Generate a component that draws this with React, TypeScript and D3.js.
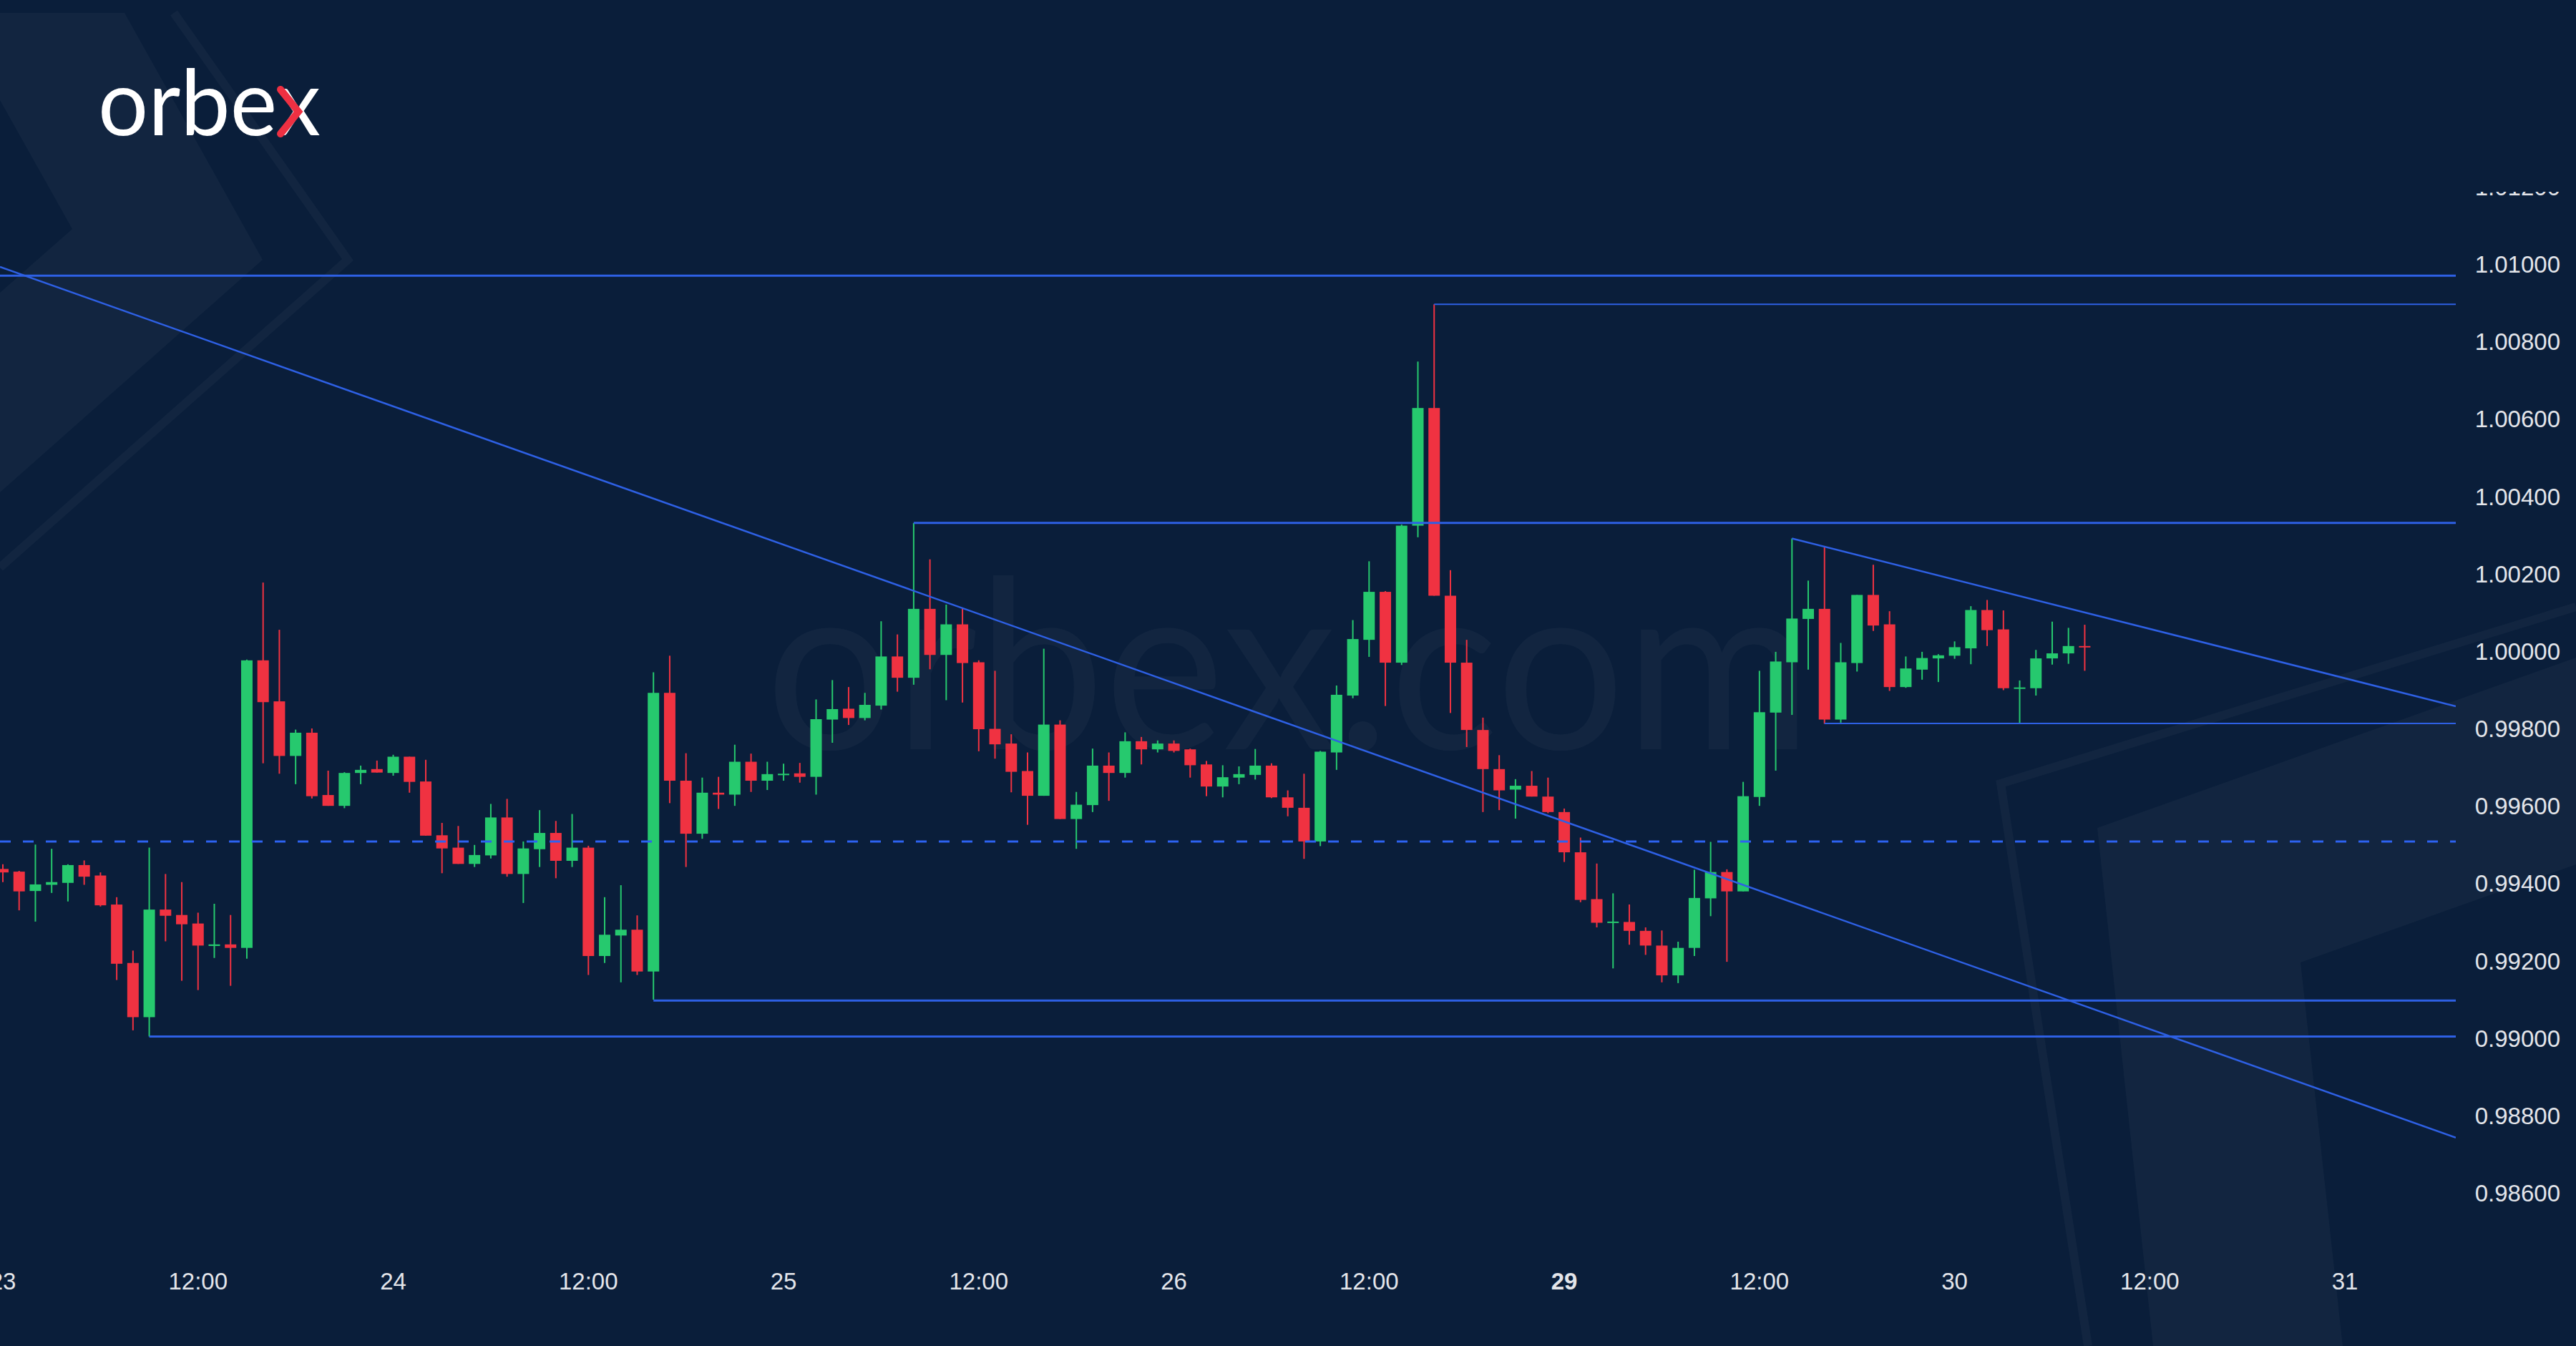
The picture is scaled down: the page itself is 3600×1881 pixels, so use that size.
import React from "react";
import * as d3 from "d3";

// ---- data (EUR/USD 1H) ----
const opens = [
  0.99437, 0.9943, 0.9938, 0.99396, 0.99401, 0.99447, 0.9942, 0.99345, 0.99194, 0.99054,
  0.99332, 0.99318, 0.99296, 0.99238, 0.99242, 0.99233, 0.99976, 0.9987, 0.99729, 0.99789,
  0.99628, 0.996, 0.99685, 0.99695, 0.99685, 0.99727, 0.99663, 0.99524, 0.99492, 0.9945,
  0.99472, 0.9957, 0.99424, 0.99488, 0.9953, 0.99458, 0.99492, 0.99212, 0.99265, 0.9928,
  0.99172, 0.99892, 0.99665, 0.99528, 0.99634, 0.99629, 0.99714, 0.99665, 0.99681, 0.99684,
  0.99675, 0.99823, 0.99851, 0.99827, 0.99859, 0.99986, 0.99931, 1.00109, 0.9999, 1.00069,
  0.99971, 0.99799, 0.99761, 0.9969, 0.99626, 0.9981, 0.99566, 0.99602, 0.99704, 0.99685,
  0.99767, 0.99746, 0.99761, 0.99746, 0.99707, 0.9965, 0.99673, 0.9968, 0.99704, 0.99622,
  0.99595, 0.99508, 0.99738, 0.99885, 1.00029, 1.00153, 0.9997, 1.00324, 1.00628, 1.00143,
  0.9997, 0.99796, 0.99695, 0.99642, 0.99652, 0.99624, 0.99584, 0.9948, 0.99359, 0.99298,
  0.993, 0.99277, 0.99239, 0.99162, 0.99233, 0.99361, 0.99429, 0.99379, 0.99623, 0.99841,
  0.99971, 1.00083, 1.00109, 0.99823, 0.99969, 1.00145, 1.00069, 0.99907, 0.99952, 0.99981,
  0.99988, 1.00007, 1.00106, 1.00056, 0.99904, 0.99904, 0.99981, 0.99994, 1.00013,
];
const highs = [
  0.99449, 0.99432, 0.995, 0.99489, 0.99449, 0.99459, 0.99428, 0.99364, 0.99226, 0.99492,
  0.99424, 0.99403, 0.99324, 0.99347, 0.99318, 0.99978, 1.00177, 1.00055, 0.99797, 0.998,
  0.99691, 0.99687, 0.99704, 0.99717, 0.99732, 0.99727, 0.99719, 0.99556, 0.99548, 0.99499,
  0.99605, 0.99618, 0.99508, 0.99589, 0.99561, 0.99579, 0.99497, 0.99364, 0.99395, 0.99317,
  0.99945, 0.99988, 0.99736, 0.99673, 0.99675, 0.99758, 0.99735, 0.99714, 0.99709, 0.99711,
  0.99875, 0.99925, 0.99907, 0.99892, 1.00077, 1.00043, 1.00331, 1.00237, 1.0012, 1.00112,
  0.99976, 0.99949, 0.99785, 0.99738, 1.00006, 0.99821, 0.99636, 0.99748, 0.99738, 0.9979,
  0.99778, 0.99769, 0.99769, 0.99748, 0.99716, 0.99705, 0.99702, 0.99747, 0.9971, 0.9964,
  0.99683, 0.99742, 0.99911, 1.0008, 1.00232, 1.00155, 1.00327, 1.00748, 1.00896, 1.00209,
  1.00029, 0.99828, 0.99731, 0.99669, 0.9969, 0.99673, 0.99593, 0.99518, 0.99451, 0.99374,
  0.99345, 0.99286, 0.99278, 0.99249, 0.99435, 0.99507, 0.99436, 0.99662, 0.99949, 0.99998,
  1.00291, 1.00182, 1.00268, 1.00021, 1.00145, 1.00223, 1.00103, 0.99986, 0.99998, 0.99992,
  1.00025, 1.00116, 1.00132, 1.00105, 0.99924, 1.00003, 1.00076, 1.0006, 1.00068,
];
const lows = [
  0.99403, 0.9933, 0.99301, 0.99375, 0.99353, 0.99396, 0.9934, 0.9915, 0.9902, 0.99004,
  0.9925, 0.99148, 0.99124, 0.99207, 0.99135, 0.99205, 0.9971, 0.99683, 0.99656, 0.99619,
  0.996, 0.99594, 0.99656, 0.99686, 0.99678, 0.99634, 0.99523, 0.99426, 0.9945, 0.99442,
  0.99464, 0.99417, 0.99349, 0.99442, 0.99413, 0.99442, 0.99163, 0.99194, 0.99144, 0.99163,
  0.99099, 0.99607, 0.99442, 0.99515, 0.99592, 0.996, 0.99636, 0.99641, 0.99665, 0.9966,
  0.99629, 0.99763, 0.99809, 0.99821, 0.99849, 0.99895, 0.99913, 0.99953, 0.99873, 0.99867,
  0.99741, 0.99722, 0.99635, 0.99551, 0.99626, 0.99566, 0.99489, 0.99584, 0.99613, 0.99673,
  0.99707, 0.99738, 0.99738, 0.99673, 0.99625, 0.99622, 0.99656, 0.99668, 0.9962, 0.99573,
  0.99463, 0.99496, 0.99693, 0.99878, 0.99985, 0.99858, 0.99964, 1.00294, 1.00143, 0.9984,
  0.99752, 0.99584, 0.99589, 0.99567, 0.99624, 0.99581, 0.99455, 0.99351, 0.99286, 0.9918,
  0.99241, 0.99215, 0.99144, 0.99142, 0.99212, 0.99315, 0.99197, 0.99379, 0.996, 0.99691,
  0.99835, 0.99952, 0.99812, 0.99815, 0.99947, 1.00052, 0.99897, 0.99905, 0.99926, 0.9992,
  0.9998, 0.99966, 1.00013, 0.99899, 0.99814, 0.99885, 0.99965, 0.99967, 0.99949,
];
const closes = [
  0.99428, 0.99379, 0.99397, 0.99403, 0.99447, 0.99417, 0.99343, 0.99192, 0.99054, 0.99332,
  0.99316, 0.99294, 0.99239, 0.99242, 0.99233, 0.99976, 0.99868, 0.99729, 0.99789, 0.99625,
  0.996, 0.99685, 0.99693, 0.99686, 0.99727, 0.99662, 0.99523, 0.9949, 0.9945, 0.99473,
  0.9957, 0.99424, 0.9949, 0.9953, 0.99458, 0.99492, 0.99212, 0.99267, 0.9928, 0.99172,
  0.99892, 0.99665, 0.99528, 0.99634, 0.99629, 0.99714, 0.99665, 0.99682, 0.99683, 0.99675,
  0.99824, 0.9985, 0.99827, 0.99861, 0.99986, 0.99931, 1.00109, 0.9999, 1.00069, 0.99969,
  0.99798, 0.99759, 0.99688, 0.99626, 0.9981, 0.99566, 0.99603, 0.99704, 0.99685, 0.99767,
  0.99746, 0.99761, 0.99742, 0.99705, 0.9965, 0.99674, 0.99682, 0.99704, 0.99622, 0.99595,
  0.99508, 0.9974, 0.99887, 1.00031, 1.00153, 0.9997, 1.00324, 1.00628, 1.00143, 0.9997,
  0.99796, 0.99695, 0.9964, 0.99652, 0.99624, 0.99584, 0.9948, 0.99357, 0.99298, 0.99301,
  0.99277, 0.99239, 0.99162, 0.99233, 0.99362, 0.99429, 0.99379, 0.99625, 0.99842, 0.99973,
  1.00084, 1.00109, 0.99823, 0.99971, 1.00145, 1.00066, 0.99907, 0.99955, 0.99982, 0.99989,
  1.0001, 1.00106, 1.00054, 0.99904, 0.99906, 0.99981, 0.99994, 1.00013, 1.00012,
];

const timeTicks = [0, 12, 24, 36, 48, 60, 72, 84, 96, 108, 120, 132, 144];
const timeLabels = ["23", "12:00", "24", "12:00", "25", "12:00", "26", "12:00", "29", "12:00", "30", "12:00", "31"];
const boldTimeLabels = ["29"];
const priceTicks = [1.012, 1.01, 1.008, 1.006, 1.004, 1.002, 1.0, 0.998, 0.996, 0.994, 0.992, 0.99, 0.988, 0.986];

const levelPrices = [1.0097, 1.00896, 1.00331, 0.99813, 0.99097, 0.99004];
const levelStartIdx = [null, 88, 56, 112, 40, 9];
const midLevel = 0.99508;
const trendTimes = [[0, 150], [110, 129.2]];
const trendPrices = [[1.0099, 0.98755], [1.00291, 1.00087]];

const W = 3600;
const H = 1881;
const PLOT_RIGHT = 3432;
const BG = "#0a1e3a";
const UP = "#26c96e";
const DOWN = "#f03241";
const LINE = "#2e60e4";
const LEVEL_WIDTH = [3, 2, 3, 2, 3, 3];
const AXIS_FONT = "'Liberation Sans', Arial, sans-serif";
const LOGO_FONT = "Lato, 'Open Sans', sans-serif";

export default function App() {
  const x = d3.scaleLinear().domain([0, 150]).range([4, 4 + 22.73 * 150]);
  const y = d3.scaleLinear().domain([0.986, 1.01]).range([1667, 369]);
  const bodyW = 16;

  const trendPaths = trendTimes.map((t, k) => {
    const p = trendPrices[k];
    const f = d3.scaleLinear().domain(t).range(p);
    const i0 = k === 0 ? x.invert(0) : t[0];
    const i1 = x.invert(PLOT_RIGHT);
    return d3.line()([
      [x(i0), y(f(i0))],
      [x(i1), y(f(i1))],
    ]);
  });

  return (
    <svg
      width={W}
      height={H}
      viewBox={`0 0 ${W} ${H}`}
      style={{ position: "absolute", left: 0, top: 0, display: "block" }}
    >
      <defs>
        <clipPath id="plotClip">
          <rect x={0} y={0} width={PLOT_RIGHT} height={1740} />
        </clipPath>
        <clipPath id="axisClip">
          <rect x={PLOT_RIGHT} y={268} width={W - PLOT_RIGHT} height={1470} />
        </clipPath>
      </defs>

      <rect x={0} y={0} width={W} height={H} fill={BG} />

      {/* background decorations */}
      <path
        d="M0,18 L174,18 L367,363 L0,688 Z M0,140 L101,320 L0,409 Z"
        fill="#ffffff"
        fillOpacity={0.035}
        fillRule="evenodd"
      />
      <polyline
        points="243,18 486,363 0,793"
        fill="none"
        stroke="#ffffff"
        strokeOpacity={0.035}
        strokeWidth={12}
      />
      <polyline
        points="3600,848 2796,1095 2918,1881"
        fill="none"
        stroke="#ffffff"
        strokeOpacity={0.035}
        strokeWidth={12}
      />
      <polygon
        points="2931,1157 3600,919 3600,1208 3215,1345 3274,1881 3009,1881"
        fill="#ffffff"
        fillOpacity={0.035}
      />

      {/* watermark */}
      <text
        x={1070}
        y={1047}
        fontFamily={LOGO_FONT}
        fontSize={330}
        fill="#ffffff"
        fillOpacity={0.035}
        textLength={1462}
        lengthAdjust="spacingAndGlyphs"
      >
        orbex.com
      </text>

      {/* logo */}
      <text
        x={137}
        y={189}
        fontFamily={LOGO_FONT}
        fontWeight={400}
        fontSize={128}
        fill="#ffffff"
        textLength={311}
        lengthAdjust="spacingAndGlyphs"
      >
        orbex
      </text>
      {/* red chevron half of the logo's x */}
      <polyline
        points="392,125 417,156 392,187"
        fill="none"
        stroke="#ee3042"
        strokeWidth={10}
        strokeLinecap="round"
        strokeLinejoin="miter"
      />

      <g clipPath="url(#plotClip)">
        {/* candles */}
        {opens.map((o, i) => {
          const c = closes[i];
          const up = c >= o;
          const col = up ? UP : DOWN;
          const top = y(Math.max(o, c));
          const h = Math.max(2, Math.abs(y(o) - y(c)));
          return (
            <g key={i}>
              <line x1={x(i)} x2={x(i)} y1={y(highs[i])} y2={y(lows[i])} stroke={col} strokeWidth={2} />
              <rect x={x(i) - bodyW / 2} y={top} width={bodyW} height={h} fill={col} />
            </g>
          );
        })}

        {/* horizontal levels */}
        {levelPrices.map((p, k) => {
          const s = levelStartIdx[k];
          return (
            <line
              key={k}
              x1={s === null ? 0 : x(s)}
              x2={PLOT_RIGHT}
              y1={y(p)}
              y2={y(p)}
              stroke={LINE}
              strokeWidth={LEVEL_WIDTH[k]}
            />
          );
        })}
        <line
          x1={0}
          x2={PLOT_RIGHT}
          y1={y(midLevel)}
          y2={y(midLevel)}
          stroke="#2d62f0"
          strokeWidth={3}
          strokeDasharray="15 17"
        />
        {trendPaths.map((d, k) => (
          <path key={k} d={d || ""} fill="none" stroke={LINE} strokeWidth={2.5} />
        ))}
      </g>

      {/* price axis */}
      <g clipPath="url(#axisClip)">
        {priceTicks.map((p, k) => (
          <text
            key={k}
            x={3578}
            y={y(p) + 12}
            textAnchor="end"
            fontFamily={AXIS_FONT}
            fontSize={33}
            fill="#e3e5ea"
          >
            {p.toFixed(5)}
          </text>
        ))}
      </g>

      {/* time axis */}
      {timeTicks.map((t, k) => (
        <text
          key={k}
          x={x(t)}
          y={1802}
          textAnchor="middle"
          fontFamily={AXIS_FONT}
          fontSize={33}
          fontWeight={boldTimeLabels.includes(timeLabels[k]) ? 700 : 400}
          fill="#e3e5ea"
        >
          {timeLabels[k]}
        </text>
      ))}
    </svg>
  );
}
